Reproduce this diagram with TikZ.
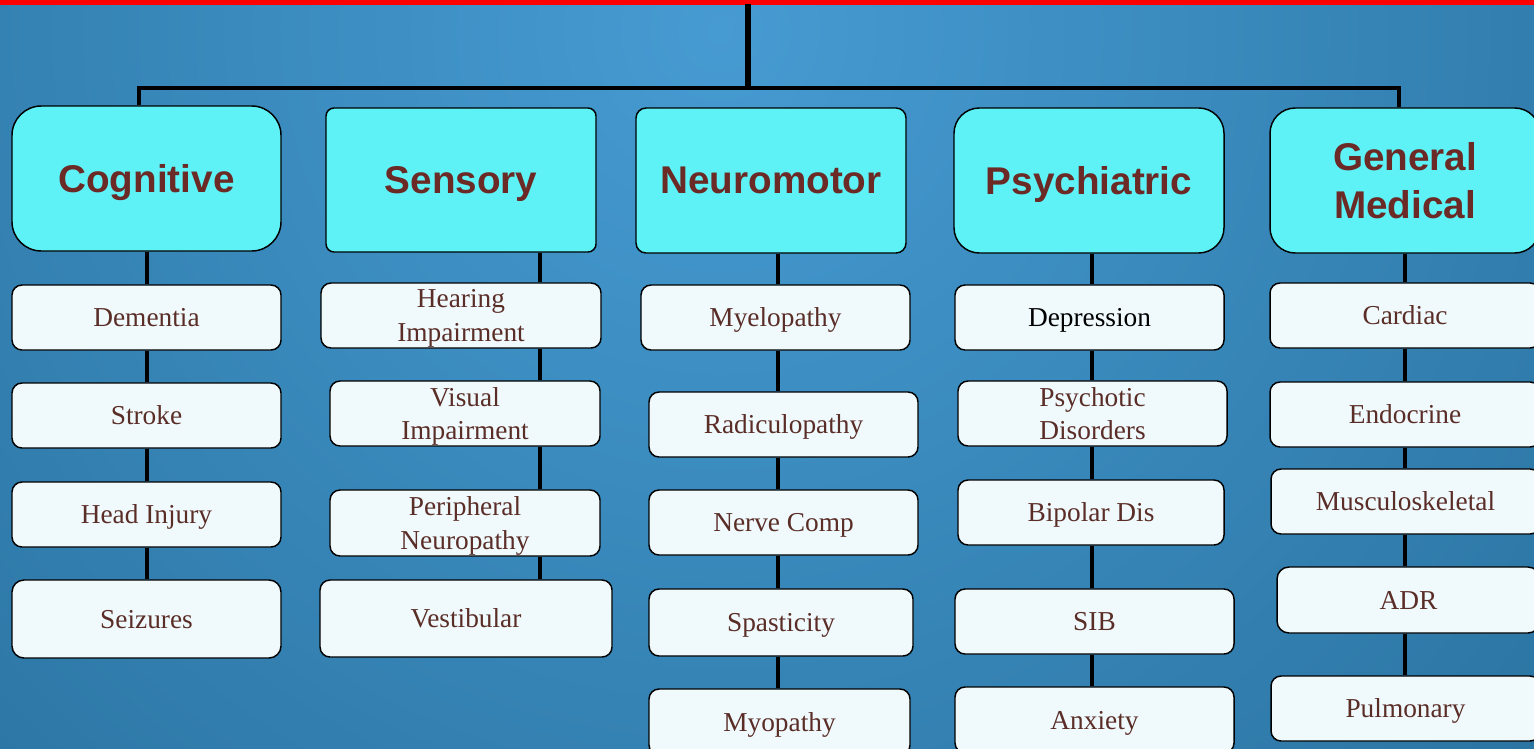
\documentclass[tikz,border=0pt]{standalone}
\usepackage{fontspec}
\setmainfont{Liberation Serif}
\newfontfamily\headfont{Liberation Sans}

\definecolor{bglight}{HTML}{469BD2}
\definecolor{bgdark}{HTML}{1C5F88}
\definecolor{headfill}{HTML}{5EF2F6}
\definecolor{headtext}{HTML}{6B2A25}
\definecolor{itemfill}{HTML}{F0FAFD}
\definecolor{itemtext}{HTML}{5A2D27}

\tikzset{every picture/.style={line width=0.75pt}}
\tikzset{
  head/.style={draw=black, line width=1.1pt, fill=headfill, text=headtext, align=center,
    inner sep=0pt, text depth=0pt, font=\headfont\bfseries\fontsize{29}{36}\selectfont},
  item/.style={draw=black, line width=1.1pt, fill=itemfill, text=itemtext, align=center,
    inner sep=0pt, text depth=0pt, rounded corners=7.5pt, minimum height=48.75pt, font=\fontsize{20.5}{25}\selectfont},
  trunk/.style={line width=4.5pt},
  link/.style={line width=3.5pt}
}

\begin{document}
\begin{tikzpicture}[x=0.75pt,y=0.75pt,yscale=-1,xscale=1]
	\useasboundingbox (0,0) rectangle (1534,749);
	\clip (0,0) rectangle (1534,749);

	%Background glow
	\shade [inner color=bglight, outer color=bgdark] (720,30) circle (1700);
	%Top red rule
	\draw [red, line width=3.75pt] (0,2.5) -- (1534,2.5);

	%Headers
	\node [head, rounded corners=22pt, minimum width=201.75pt, minimum height=108.75pt] (cog) at (146.5,178.5) {Cognitive};
	\node [head, rounded corners=6pt, minimum width=202.5pt, minimum height=108pt] (sen) at (461,180) {Sensory};
	\node [head, rounded corners=7.5pt, minimum width=202.5pt, minimum height=108.75pt] (neu) at (771,180.5) {Neuromotor};
	\node [head, rounded corners=19pt, minimum width=202.5pt, minimum height=108.75pt] (psy) at (1089,180.5) {Psychiatric};
	\node [head, rounded corners=19pt, minimum width=202.5pt, minimum height=108.75pt] (gen) at (1405,180.5) {General\\Medical};

	%Cognitive column
	\node [item, minimum width=201.75pt] (cog1) at (146.5,317.5) {Dementia};
	\node [item, minimum width=201.75pt] (cog2) at (146.5,415.5) {Stroke};
	\node [item, minimum width=201.75pt] (cog3) at (146.5,514.5) {Head Injury};
	\node [item, minimum width=201.75pt, minimum height=58.5pt, rounded corners=9pt] (cog4) at (146.5,619) {Seizures};

	%Sensory column
	\node [item, minimum width=210pt] (sen1) at (461,315.5) {Hearing\\Impairment};
	\node [item, minimum width=202.5pt] (sen2) at (465,413.5) {Visual\\Impairment};
	\node [item, minimum width=202.5pt, minimum height=49.5pt] (sen3) at (465,523) {Peripheral\\Neuropathy};
	\node [item, minimum width=219pt, minimum height=57.75pt] (sen4) at (466,618.5) {Vestibular};

	%Neuromotor column
	\node [item, minimum width=201.75pt] (neu1) at (775.5,317.5) {Myelopathy};
	\node [item, minimum width=201.75pt] (neu2) at (783.5,424.5) {Radiculopathy};
	\node [item, minimum width=201.75pt] (neu3) at (783.5,522.5) {Nerve Comp};
	\node [item, minimum width=198pt, minimum height=50.25pt] (neu4) at (781,622.5) {Spasticity};
	\node [item, minimum width=195.75pt, minimum height=49.5pt] (neu5) at (779.5,722) {Myopathy};

	%Psychiatric column
	\node [item, minimum width=201.75pt, text=black] (psy1) at (1089.5,317.5) {Depression};
	\node [item, minimum width=201.75pt] (psy2) at (1092.5,413.5) {Psychotic\\Disorders};
	\node [item, minimum width=199.5pt] (psy3) at (1091,512.5) {Bipolar Dis};
	\node [item, minimum width=209.25pt] (psy4) at (1094.5,621.5) {SIB};
	\node [item, minimum width=209.25pt, minimum height=49.5pt] (psy5) at (1094.5,720) {Anxiety};

	%General medical column
	\node [item, minimum width=202.5pt] (gen1) at (1405,315.5) {Cardiac};
	\node [item, minimum width=202.5pt] (gen2) at (1405,414.5) {Endocrine};
	\node [item, minimum width=201.75pt] (gen3) at (1405.5,501.5) {Musculoskeletal};
	\node [item, minimum width=197.25pt, minimum height=49.5pt, rounded corners=9pt] (gen4) at (1408.5,600) {ADR};
	\node [item, minimum width=201.75pt] (gen5) at (1405.5,708.5) {Pulmonary};

	%Tree lines
	\coordinate (root) at (748,4);
	\coordinate (hub) at (748,88);
	\coordinate (lft) at (139,88);
	\coordinate (rgt) at (1399,88);
	\draw [trunk] (root) -- (hub);
	\draw [link] (cog.north -| lft) -- (lft) -- (rgt) -- (gen.north -| rgt);

	\coordinate (xcog) at (147,0);
	\coordinate (xsen) at (540,0);
	\coordinate (xneu) at (778,0);
	\coordinate (xpsy) at (1092,0);
	\coordinate (xgen) at (1405,0);
	\foreach \a/\b/\c in {cog/cog1/xcog, cog1/cog2/xcog, cog2/cog3/xcog, cog3/cog4/xcog,
	                      sen/sen1/xsen, sen1/sen2/xsen, sen2/sen3/xsen, sen3/sen4/xsen,
	                      neu/neu1/xneu, neu1/neu2/xneu, neu2/neu3/xneu, neu3/neu4/xneu, neu4/neu5/xneu,
	                      psy/psy1/xpsy, psy1/psy2/xpsy, psy2/psy3/xpsy, psy3/psy4/xpsy, psy4/psy5/xpsy,
	                      gen/gen1/xgen, gen1/gen2/xgen, gen2/gen3/xgen, gen3/gen4/xgen, gen4/gen5/xgen}
	  \draw [link] (\a.south -| \c) -- (\b.north -| \c);

\end{tikzpicture}
\end{document}
